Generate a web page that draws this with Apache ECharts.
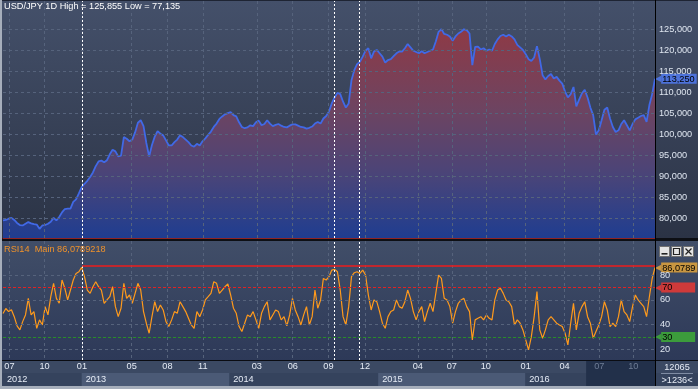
<!DOCTYPE html>
<html><head><meta charset="utf-8">
<script src="https://cdn.jsdelivr.net/npm/echarts@6/dist/echarts.min.js"></script>
<style>
html,body{margin:0;padding:0;background:#34405a;}
#c{width:698px;height:389px;
background:linear-gradient(to bottom,
 #1e2433 0px,#1e2433 1px,
 #44506a 1px,#2b3345 238px,
 #0d0f14 238px,#0d0f14 241px,
 #414e68 241px,#2d3958 360px,
 #0a0c12 360px,#0a0c12 361px,
 #3b4963 361px,#3b4963 373px,
 #35435d 373px,#35435d 386px,
 #a6aebb 386px,#a6aebb 389px);}
</style></head><body><div id="c"></div>
<script>
// weekly closes (JPY), week 0 = mid-June 2012, last = late Nov 2016
const price = [79.6,79.7,80.0,80.2,79.7,79.0,78.5,78.4,78.8,79.2,78.9,78.7,78.6,77.6,78.4,78.5,78.8,79.3,80.2,79.6,
80.4,81.5,82.3,82.4,82.4,84.0,84.6,86.0,87.5,88.3,89.0,89.9,91.0,92.5,93.6,93.8,93.4,93.9,95.3,96.4,
96.0,94.8,95.0,99.4,99.0,98.4,98.8,100.5,102.8,103.4,102.0,98.0,94.8,97.5,99.5,100.8,100.2,99.8,98.6,97.4,
97.4,98.2,98.8,99.8,99.4,98.8,98.2,97.4,97.1,97.8,97.4,98.4,99.1,99.9,100.7,101.8,102.6,103.7,104.3,104.8,
105.1,105.3,104.6,104.3,102.9,101.8,101.5,101.7,102.2,102.0,102.9,103.3,102.2,102.5,103.4,102.6,102.0,102.3,102.5,102.1,
101.8,101.7,102.1,102.4,102.4,102.1,101.8,101.7,101.4,101.6,101.9,102.6,103.0,102.6,103.8,104.4,
105.5,107.4,108.8,109.9,109.6,107.8,106.4,107.4,112.9,115.3,116.7,117.3,118.5,119.9,120.5,118.1,119.7,120.1,119.3,118.5,
117.1,117.7,117.9,118.6,119.3,119.7,119.7,120.5,121.5,120.7,119.9,119.6,119.3,119.8,119.3,119.6,119.9,120.2,122.1,124.4,
125.0,123.9,123.7,123.3,122.3,123.3,124.0,124.4,125.0,124.8,124.0,116.5,120.8,120.9,120.2,120.5,119.9,120.2,119.9,121.5,
122.6,123.4,123.7,123.3,123.7,123.3,122.6,121.3,120.7,120.1,119.1,117.9,117.5,118.3,121.0,117.9,114.1,113.1,113.9,114.4,
113.3,113.7,112.8,112.1,110.2,108.8,109.6,111.3,106.7,108.3,109.8,110.6,108.8,106.4,104.6,100.0,101.0,103.4,105.9,106.4,
103.8,101.8,100.6,101.0,102.5,103.4,102.2,101.0,102.5,103.6,104.0,104.4,104.6,103.0,107.0,109.6,113.25];

const rsi = [49,53,50.5,52,46.4,39,35.7,42.4,47.8,61.2,47.8,50.5,37,43.8,39.7,54.5,47.8,62.5,73.3,61.2,
57.2,76,69.3,59.9,67.9,76,81.3,82.7,86.2,78.7,67.9,65.2,70.6,74.6,70.6,67.9,57.2,59.9,62.5,70.6,
54.5,46.4,53.2,73.3,61.2,63.9,57.2,65.2,73.3,67.9,50.5,41.1,33,46.4,58.5,50.5,55.8,51.8,42.4,38.4,
43.8,50.5,49.1,58.5,54.5,50.5,45.1,39.7,37,50.5,46.4,51.8,59.9,62.5,65.2,74.6,73.3,65.2,67.9,70.6,
72.8,63.9,53.2,49.1,38.4,34.4,41.1,47.8,46.4,50.5,43.8,37,49.1,54.5,58.5,43.8,47.8,51.8,50.5,43.8,
46.4,39,47.8,61.2,51.8,46.4,39.7,47.8,54.5,39.7,46.4,67.9,53.2,59.9,77.3,76,
78.7,84,84.6,82.7,67.9,46.4,39.7,54.5,78.7,81.9,82.7,81.3,84,80,63.9,51.8,59.9,58.5,50.5,41.1,
37,46.4,50.5,51.8,59.9,54.5,53.2,58.5,67.9,61.2,50.5,43.8,50.5,54.5,42.4,50.5,57.2,50.5,65.2,80,
77.3,61.2,59.9,54.5,41.1,50.5,57.2,59.9,61.2,54.5,50.5,27.6,43.8,45.1,46.4,43.8,47.8,45.1,43.8,59.9,
67.9,69.3,65.2,59.9,58.5,54.5,39.7,43.8,41.1,35.7,27.6,19.6,30.3,46.4,66.6,35.7,29,35.7,43.8,46.4,
43.8,41.1,39.7,38.4,33,23.6,41.1,57.2,35.7,49.1,54.5,58.5,46.4,41.1,29,34.4,39.7,46.4,58.5,51.8,
38.4,41.1,38.4,46.4,59.9,50.5,47.8,42.4,54.5,63.9,59.9,57.2,54.5,46.4,62.5,77.3,86.08];

// month ticks (week positions) and their labels
const monthTickWeeks = [2.3,14.8,28.1,45.8,58.5,71.1,90.3,103.1,115.8,128.8,147.6,159.7,171.8,186.0,199.8,212.2,224.3];
const monthTickLabels = ['07','10','01','05','08','11','03','06','09','12','04','07','10','01','04','07','10'];
const years = ['2012','2013','2014','2015','2016'];
const yearStartWeeks = [0,28.0,80.5,133.5,185.8];
const darkStartWeek = 207.5;
const eventWeeks = [28.2,117.9,126.8];
const priceTicks = [80,85,90,95,100,105,110,115,120,125];
const rsiTicks = [20,40,60,80];
const rsiHigh = 70, rsiLow = 30;
const rsiTrendLevel = 87.2, rsiTrendStart = 28.2;
const lastPrice = 113.25, lastRsi = 86.0789;
const titleMain = 'USD/JPY 1D High = 125,855 Low = 77,135';
const titleRsi = 'RSI14  Main 86,0789218';

const N = price.length - 1;
const FONT = 'Liberation Sans';
const FS = 9.2;
const comma = (v,d)=> v.toFixed(d).replace('.', ',');
const chart = echarts.init(document.getElementById('c'), null, {width:698,height:389});

const eventLines = eventWeeks.map(w => ({xAxis:w, lineStyle:{color:'#ffffff',type:[2,2],width:1}, label:{show:false}}));
const gridLine = {color:'#56637c', type:[3,3], width:1};
const clear = 'rgba(0,0,0,0)';

const yearAreas = years.map((y,i)=>[
  {xAxis: yearStartWeeks[i], name: y, itemStyle:{color: i%2===1 ? '#4b5a76' : clear}},
  {xAxis: i+1<years.length ? yearStartWeeks[i+1] : N}
]);

function tag(text, color, width){
  const b = {backgroundColor:color,color:'#000',fontSize:FS,fontFamily:FONT,padding:[1,2,0,1],lineHeight:11};
  if (width) b.width = width;
  return {show:true,position:'end',distance:0,formatter:'{a|◀}{b|'+text+'}',
    rich:{a:{color:color,fontSize:8,fontFamily:'DejaVu Sans',lineHeight:11},b:b}};
}

const option = {
  animation:false,
  backgroundColor:'transparent',
  textStyle:{fontFamily:FONT},
  title:[
    {text:titleMain,left:4,top:2,padding:0,textStyle:{color:'#ffffff',fontSize:FS,fontWeight:'normal',fontFamily:FONT}},
    {text:titleRsi,left:4,top:245,padding:0,textStyle:{color:'#f0922a',fontSize:FS,fontWeight:'normal',fontFamily:FONT}}
  ],
  grid:[
    {left:3,right:43,top:1,height:237,outerBoundsMode:'none'},
    {left:3,right:43,top:241,height:119,outerBoundsMode:'none'},
    {left:3,right:43,top:361,height:25,outerBoundsMode:'none'},
    {left:3,right:43,top:373,height:13,outerBoundsMode:'none'}
  ],
  xAxis:[
    {type:'value',gridIndex:0,min:0,max:N,z:5,
     axisLine:{show:true,onZero:false,lineStyle:{color:'#8e2424',width:1}},
     axisTick:{show:false,customValues:monthTickWeeks},
     axisLabel:{show:false,customValues:monthTickWeeks},
     splitLine:{show:true,lineStyle:gridLine}},
    {type:'value',gridIndex:1,min:0,max:N,z:5,
     axisLine:{show:false},
     axisTick:{show:false,customValues:monthTickWeeks},
     axisLabel:{show:true,customValues:monthTickWeeks,margin:2,
       formatter:(v)=>{const i=monthTickWeeks.findIndex(t=>Math.abs(t-v)<1e-6); if(i<0) return ''; return (v>=darkStartWeek?'{d|':'{n|')+monthTickLabels[i]+'}';},
       rich:{n:{color:'#e6ecf6',fontSize:FS,fontFamily:FONT},d:{color:'#6f7d96',fontSize:FS,fontFamily:FONT}}},
     splitLine:{show:true,lineStyle:gridLine}},
    {type:'value',gridIndex:2,min:0,max:N,show:false},
    {type:'value',gridIndex:3,min:0,max:N,show:false}
  ],
  yAxis:[
    {type:'value',gridIndex:0,position:'right',min:75.42,max:131.72,z:5,
     axisLine:{show:false},
     axisTick:{show:false,customValues:priceTicks},
     axisLabel:{customValues:priceTicks,margin:4,color:'#dfe6f0',fontSize:FS,fontFamily:FONT,formatter:v=>comma(v,3)},
     splitLine:{show:true,lineStyle:gridLine}},
    {type:'value',gridIndex:1,position:'right',min:11.4,max:107.5,z:5,
     axisLine:{show:false},
     axisTick:{show:false,customValues:rsiTicks},
     axisLabel:{customValues:rsiTicks,margin:5,color:'#dfe6f0',fontSize:FS,fontFamily:FONT},
     splitLine:{show:true,lineStyle:gridLine}},
    {type:'value',gridIndex:2,min:0,max:1,show:false},
    {type:'value',gridIndex:3,min:0,max:1,show:false}
  ],
  series:[
    {type:'line',xAxisIndex:0,yAxisIndex:0,data:price.map((v,i)=>[i,v]),symbol:'none',z:3,
     lineStyle:{color:'#4169e6',width:1.8},
     areaStyle:{opacity:1,color:new echarts.graphic.LinearGradient(0,0,0,1,[
       {offset:0,color:'#8e3a46'},{offset:0.4,color:'#6c4462'},{offset:0.72,color:'#47447a'},{offset:1,color:'#1f3d90'}])},
     markLine:{silent:true,symbol:['none','none'],animation:false,
       data:[...eventLines,
         {yAxis:lastPrice,lineStyle:{color:clear,width:0},label:tag(comma(lastPrice,3),'#4d72da')}]}},
    {type:'line',xAxisIndex:1,yAxisIndex:1,data:rsi.map((v,i)=>[i,v]),symbol:'none',z:3,
     lineStyle:{color:'#ff9a1c',width:1.2},
     markLine:{silent:true,symbol:['none','none'],animation:false,
       data:[...eventLines,
         {yAxis:rsiHigh,lineStyle:{color:'#e02222',type:[3,2],width:1},label:tag(String(rsiHigh),'#cf3a3a',31)},
         {yAxis:rsiLow,lineStyle:{color:'#2a8c2a',type:[3,2],width:1},label:tag(String(rsiLow),'#3c9c3c',31)},
         [{coord:[rsiTrendStart,rsiTrendLevel],lineStyle:{color:'#ee1c1c',width:1.5,type:'solid'},label:{show:false}},{coord:[N,rsiTrendLevel]}],
         {yAxis:lastRsi,lineStyle:{color:clear,width:0},label:tag(comma(lastRsi,4),'#c99640')}]}},
    {type:'line',xAxisIndex:2,yAxisIndex:2,data:[],z:4,
     markArea:{silent:true,data:[[{xAxis:darkStartWeek,itemStyle:{color:'#22304a'}},{xAxis:N}]]}},
    {type:'line',xAxisIndex:3,yAxisIndex:3,data:[],z:1,
     markArea:{silent:true,label:{show:true,position:'insideLeft',distance:4,color:'#e6ecf6',fontSize:FS,fontFamily:FONT},
       data:yearAreas}}
  ],
  graphic:[
    {type:'rect',shape:{x:0,y:0,width:2,height:389},style:{fill:'#a6aebb'},z:100},
    {type:'line',shape:{x1:655.5,y1:0,x2:655.5,y2:386},style:{stroke:'#000',lineWidth:1},z:100},
    {type:'group',left:659,top:246,z:100,children:[
      {type:'rect',shape:{x:0,y:0,width:10,height:10},style:{fill:'#e4e4e4',stroke:'#707070'}},
      {type:'rect',shape:{x:2,y:6.5,width:6,height:1.6},style:{fill:'#222'}},
      {type:'rect',shape:{x:12,y:0,width:10,height:10},style:{fill:'#e4e4e4',stroke:'#707070'}},
      {type:'rect',shape:{x:14,y:2,width:6,height:6},style:{fill:'none',stroke:'#222',lineWidth:1.2}},
      {type:'rect',shape:{x:24,y:0,width:10,height:10},style:{fill:'#e4e4e4',stroke:'#707070'}},
      {type:'line',shape:{x1:26,y1:2,x2:32,y2:8},style:{stroke:'#222',lineWidth:1.2}},
      {type:'line',shape:{x1:32,y1:2,x2:26,y2:8},style:{stroke:'#222',lineWidth:1.2}}
    ]},
    {type:'text',x:677,y:367,z:100,style:{text:'12065',fill:'#e6ecf6',font:FS+'px "'+FONT+'"',align:'center',verticalAlign:'middle'}},
    {type:'line',shape:{x1:661,y1:373.5,x2:693,y2:373.5},style:{stroke:'#7f8ca3',lineWidth:1},z:100},
    {type:'text',x:677,y:380,z:100,style:{text:'>1236<',fill:'#e6ecf6',font:FS+'px "'+FONT+'"',align:'center',verticalAlign:'middle'}}
  ]
};
chart.setOption(option);
</script></body></html>
